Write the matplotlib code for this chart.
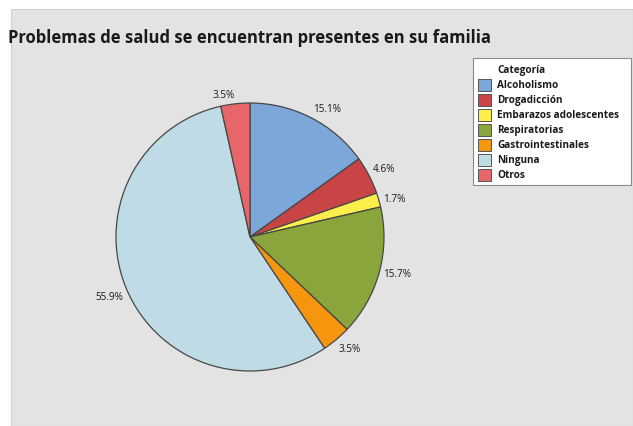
import matplotlib
matplotlib.use("Agg")
import numpy as np
import matplotlib.pyplot as plt
from matplotlib.patches import Rectangle

categories = ["Alcoholismo", "Drogadicción", "Embarazos adolescentes", "Respiratorias",
              "Gastrointestinales", "Ninguna", "Otros"]
values = [15.1, 4.6, 1.7, 15.7, 3.5, 55.9, 3.5]
colors = ["#7BA7D9", "#C94545", "#FDEF4B", "#8AA53B", "#F5960E", "#BFDCE6", "#E7666A"]
title = "Problemas de salud se encuentran presentes en su familia"
legend_title = "Categoría"

W, H = 633, 427
plt.rcParams['font.family'] = ['Open Sans', 'DejaVu Sans']
fig = plt.figure(figsize=(W / 100, H / 100), dpi=100)
fig.patch.set_facecolor("white")

# gray panel
fig.patches.append(Rectangle((11 / W, 0), 1 - 11 / W, (H - 10) / H, transform=fig.transFigure,
                             facecolor="#E3E3E3", edgecolor="#D0D0D0", linewidth=0.8, zorder=-10))

fig.text(8 / W, 1 - 38 / H, title, fontsize=12.0, fontweight="bold", va="center", ha="left",
         color="#1A1A1A")

# pie axes: center (250,238), radius 134 px
cx, cy, r = 250, 238, 134
half = 150
ax = fig.add_axes([(cx - half) / W, (H - cy - half) / H, 2 * half / W, 2 * half / H])
ax.set_zorder(5)
ax.patch.set_visible(False)
wedges, texts = ax.pie(values, colors=colors, startangle=90, counterclock=False,
                       labels=[f"{v:.1f}%" for v in values], labeldistance=1.03,
                       wedgeprops=dict(edgecolor="#474747", linewidth=0.9),
                       textprops=dict(fontsize=7.2, color="#1A1A1A"))
ax.set_xlim(-half / r, half / r)
ax.set_ylim(-half / r, half / r)
ax.axis("off")
for w, t in zip(wedges, texts):
    ang = np.deg2rad((w.theta1 + w.theta2) / 2)
    s = np.sin(ang)
    t.set_ha("left" if np.cos(ang) >= 0 else "right")
    if abs(s) < 0.35:
        t.set_va("center")
    else:
        t.set_va("bottom" if s > 0 else "top")

# legend
lx0, ly0, lx1, ly1 = 473, 59, 631, 186
fig.patches.append(Rectangle((lx0 / W, 1 - ly1 / H), (lx1 - lx0) / W, (ly1 - ly0) / H,
                             transform=fig.transFigure, facecolor="white",
                             edgecolor="#8A8A8A", linewidth=0.8, zorder=-5))
fig.text(497 / W, 1 - 71 / H, legend_title, fontsize=7.2, fontweight="bold", va="center",
         ha="left", color="#1A1A1A")
for i, (c, col) in enumerate(zip(categories, colors)):
    y = 86 + 15 * i
    fig.patches.append(Rectangle((478 / W, 1 - (y + 6) / H), 13 / W, 12 / H,
                                 transform=fig.transFigure, facecolor=col,
                                 edgecolor="#555555", linewidth=0.7, zorder=-4))
    fig.text(497 / W, 1 - y / H, c, fontsize=7.2, fontweight="bold", va="center", ha="left",
             color="#1A1A1A")

fig.savefig("out.png", dpi=100)
